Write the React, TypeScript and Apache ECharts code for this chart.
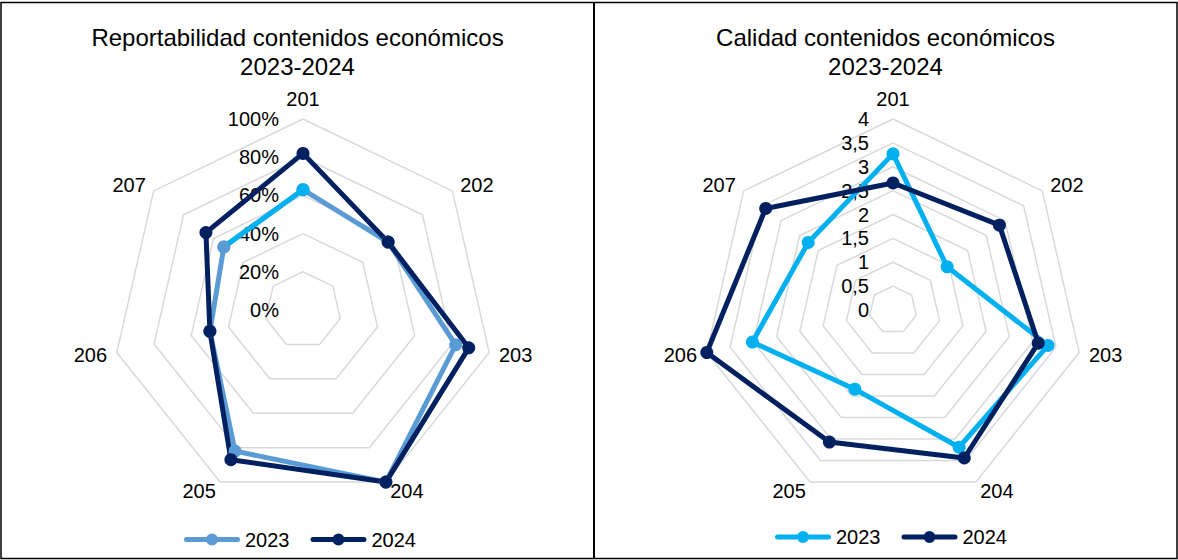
import React, { useEffect, useRef } from 'react';
import * as echarts from 'echarts';

// ---------- data ----------
const categories = ['201', '202', '203', '204', '205', '206', '207'];
const reportabilidad2023 = [63, 57, 82, 100, 82, 50, 53];
const reportabilidad2024 = [82, 57, 89, 100, 87, 50, 65];
const calidad2023 = [3.27, 1.45, 3.33, 3.19, 1.84, 3.02, 2.27];
const calidad2024 = [2.66, 2.85, 3.12, 3.44, 3.07, 4.0, 3.41];
const years = ['2023', '2024'];
const reportMax = 100;
const reportSplit = 5;
const calidadMax = 4;
const calidadSplit = 8;
const titleLeft = ['Reportabilidad contenidos económicos', '2023-2024'];
const titleRight = ['Calidad contenidos económicos', '2023-2024'];

// ---------- style ----------
const FONT = '"Liberation Sans", Arial, Helvetica, sans-serif';
const C_LIGHT = '#5B9BD5';
const C_CYAN = '#00B0F0';
const C_NAVY = '#002060';
const CY = 310;
const R = 191;
const LCX = 303;
const RCX = 893;
const LW = 5;
const SYM = 13;

// clockwise order for ECharts' counter-clockwise radar
const radarOrder = [0, 6, 5, 4, 3, 2, 1];
const reorder = (arr: number[]) => radarOrder.map((i) => arr[i]);

const legendIcon =
  'path://M2.5,3.5 H53.5 A2.5,2.5 0 0 1 53.5,8.5 H2.5 A2.5,2.5 0 0 1 2.5,3.5 Z M34,6 A6,6 0 1 1 22,6 A6,6 0 1 1 34,6 Z';

function makeRadar(cx: number, max: number, split: number, fmt: (v: number) => string) {
  return {
    center: [cx, CY],
    radius: R,
    startAngle: 90,
    shape: 'polygon',
    splitNumber: split,
    indicator: radarOrder.map((i, k) => ({
      name: categories[i],
      min: 0,
      max,
      axisLabel: { show: k === 0 },
    })),
    axisName: { color: '#000', fontSize: 20, fontFamily: FONT },
    nameGap: 10,
    axisLine: { show: false },
    axisTick: { show: false },
    splitArea: { show: false },
    splitLine: { lineStyle: { color: '#D9D9D9', width: 1.5 } },
    axisLabel: {
      show: true,
      margin: 24,
      color: '#000',
      fontSize: 20,
      fontFamily: FONT,
      formatter: fmt,
    },
  };
}

function radarSeries(radarIndex: number, name: string, values: number[], color: string) {
  return {
    type: 'radar',
    radarIndex,
    symbol: 'circle',
    symbolSize: SYM,
    lineStyle: { width: LW, color },
    itemStyle: { color },
    data: [{ name, value: reorder(values) }],
  };
}

function makeLegend(left: number, top: number, prefix: string, colors: string[]) {
  return {
    left,
    top,
    padding: 0,
    itemWidth: 56,
    itemHeight: 12,
    itemGap: 21,
    icon: legendIcon,
    textStyle: { fontSize: 20, color: '#000', fontFamily: FONT },
    formatter: (n: string) => n.slice(prefix.length),
    data: years.map((y, k) => ({ name: prefix + y, itemStyle: { color: colors[k] } })),
  };
}

function titleText(lines: string[], cx: number) {
  return lines.map((t, k) => ({
    type: 'text',
    x: cx,
    y: 37.5 + k * 28.5,
    style: {
      text: t,
      fill: '#000',
      fontSize: 24,
      fontFamily: FONT,
      align: 'center',
      verticalAlign: 'middle',
    },
  }));
}

const i201 = categories.indexOf('201');
const i207 = categories.indexOf('207');

const option = {
  animation: false,
  backgroundColor: '#fff',
  textStyle: { fontFamily: FONT },
  radar: [
    makeRadar(LCX, reportMax, reportSplit, (v: number) => `${v}%`),
    makeRadar(RCX, calidadMax, calidadSplit, (v: number) => String(v).replace('.', ',')),
  ],
  polar: [{ center: [LCX, CY], radius: R }],
  angleAxis: [
    { polarIndex: 0, type: 'value', min: 0, max: categories.length, startAngle: 90, clockwise: true, show: false },
  ],
  radiusAxis: [{ polarIndex: 0, type: 'value', min: 0, max: reportMax, show: false }],
  legend: [
    makeLegend(184, 529.5, 'R', [C_LIGHT, C_NAVY]),
    makeLegend(775, 527, 'C', [C_CYAN, C_NAVY]),
  ],
  series: [
    radarSeries(0, 'R2023', reportabilidad2023, C_LIGHT),
    {
      type: 'line',
      name: 'seg',
      coordinateSystem: 'polar',
      polarIndex: 0,
      symbol: 'circle',
      symbolSize: SYM,
      lineStyle: { width: LW, color: C_CYAN },
      itemStyle: { color: C_CYAN },
      data: [
        { value: [reportabilidad2023[i207], i207], itemStyle: { color: C_LIGHT } },
        { value: [reportabilidad2023[i201], i201], itemStyle: { color: C_CYAN } },
      ],
    },
    radarSeries(0, 'R2024', reportabilidad2024, C_NAVY),
    radarSeries(1, 'C2023', calidad2023, C_CYAN),
    radarSeries(1, 'C2024', calidad2024, C_NAVY),
  ],
  graphic: [
    {
      type: 'rect',
      shape: { x: 1, y: 2.5, width: 1176, height: 556 },
      style: { fill: 'none', stroke: '#000', lineWidth: 1.5 },
      silent: true,
    },
    {
      type: 'line',
      shape: { x1: 594, y1: 2.5, x2: 594, y2: 558.5 },
      style: { stroke: '#000', lineWidth: 2 },
      silent: true,
    },
    ...titleText(titleLeft, 297.5),
    ...titleText(titleRight, 885.5),
  ],
};

export default function App() {
  const ref = useRef<HTMLDivElement>(null);
  useEffect(() => {
    const chart = echarts.init(ref.current!, null, { renderer: 'svg' });
    chart.setOption(option as any);
    return () => chart.dispose();
  }, []);
  return (
    <div
      ref={ref}
      style={{ position: 'fixed', left: 0, top: 0, width: 1178, height: 560, background: '#fff' }}
    />
  );
}
